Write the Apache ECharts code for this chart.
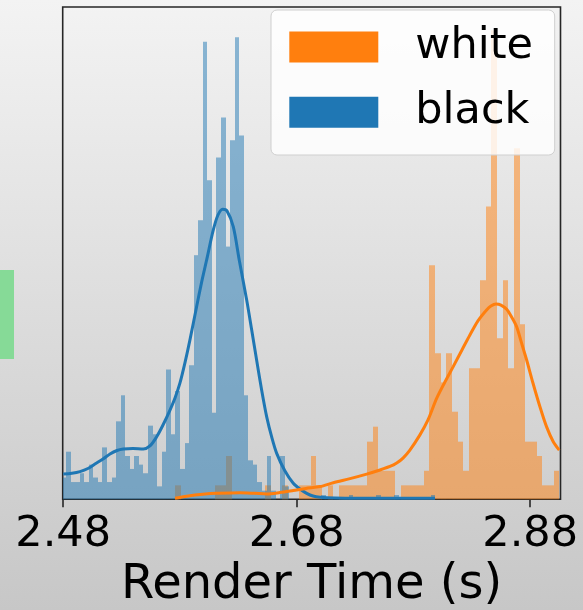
<!DOCTYPE html>
<html>
<head>
<meta charset="utf-8">
<script src="https://cdn.jsdelivr.net/npm/echarts@6/dist/echarts.min.js"></script>
<style>
html,body{margin:0;padding:0;}
body{width:583px;height:610px;background:linear-gradient(#f3f3f3,#c7c7c7);overflow:hidden;}
#c{width:583px;height:610px;}
</style>
</head>
<body>
<div id="c"></div>
<script>
// ---- data ----
const xTicks = [2.48, 2.68, 2.88];
const seriesNames = ['white', 'black'];

// "black" histogram (density), bins start at blueStart, width blueWidth
const blueStart = 2.4785;
const blueWidth = 0.003906;
const blueDensity = [
  1.06, 2.32, 0.84, 0.84, 1.27, 0.84, 1.69, 1.06, 0.84, 2.53,
  0.84, 1.06, 3.80, 5.07, 2.11, 1.48, 2.11, 1.69, 1.27, 3.59,
  3.17, 0.63, 2.32, 6.33, 3.17, 5.28, 1.48, 2.74, 6.54, 11.90,
  13.60, 22.31, 15.55, 4.22, 16.66, 18.61, 12.32, 17.50, 22.53, 17.73,
  5.07, 1.90, 1.69, 0.84, 0.42, 2.11, 0.42, 0, 2.11, 0.63,
  0, 0, 0, 0, 0, 0, 0, 0.21, 0, 0,
  0, 0, 0, 0.21, 0, 0, 0, 0, 0, 0.21,
  0, 0, 0, 0.21, 0, 0, 0, 0, 0, 0,
  0, 0.21
];

// "white" histogram (density)
const orangeStart = 2.5758;
const orangeWidth = 0.00484;
const orangeDensity = [
  0.68, 0, 0, 0, 0, 0, 0, 0.68, 0.68, 2.11,
  0, 0, 0, 0, 0, 0, 0.68, 0, 0, 0.68,
  0, 0, 0.68, 0.68, 2.11, 0.68, 0, 0.68, 0, 0.68,
  0.68, 0.68, 0.68, 0.68, 2.81, 3.54, 1.39, 1.39, 1.39, 0,
  0.68, 0.68, 0.68, 0.68, 1.39, 11.41, 7.12, 5.70, 7.12, 4.27,
  2.81, 1.39, 6.39, 6.39, 10.68, 14.27, 22.87, 7.85, 10.68, 6.39,
  17.11, 8.53, 2.81, 2.81, 2.11, 0.68, 0.68, 1.39
];

// KDE curves
const blueKdeX = [2.4801, 2.4875, 2.4944, 2.5012, 2.5072, 2.5141, 2.5201, 2.5261, 2.5315, 2.5398,
  2.5486, 2.5543, 2.5601, 2.5655, 2.5715, 2.5758, 2.5800, 2.5843, 2.5886, 2.5943,
  2.5986, 2.6029, 2.6086, 2.6126, 2.6166, 2.6203, 2.6257, 2.6308, 2.6372, 2.6415,
  2.6457, 2.6500, 2.6543, 2.6586, 2.6629, 2.6700, 2.6771, 2.6828, 2.6886, 2.6940,
  2.7000, 2.7128, 2.7342, 2.7685, 2.7985];
const blueKdeY = [1.23, 1.27, 1.35, 1.50, 1.72, 1.96, 2.21, 2.38, 2.45, 2.48,
  2.45, 2.60, 3.05, 3.62, 4.35, 4.94, 5.66, 6.65, 7.77, 9.39,
  10.59, 11.67, 13.13, 13.86, 14.14, 14.06, 13.29, 11.67, 9.72, 8.25,
  6.79, 5.33, 4.03, 3.04, 2.24, 1.38, 0.78, 0.50, 0.29, 0.16,
  0.10, 0.06, 0.05, 0.05, 0.05];

const orangeKdeX = [2.5758, 2.5843, 2.5929, 2.6015, 2.6109, 2.6314, 2.6443, 2.6543, 2.6657, 2.6771,
  2.6880, 2.7000, 2.7114, 2.7257, 2.7400, 2.7514, 2.7599, 2.7657, 2.7711, 2.7770,
  2.7856, 2.7925, 2.7999, 2.8070, 2.8141, 2.8216, 2.8284, 2.8353, 2.8427, 2.8464,
  2.8507, 2.8550, 2.8599, 2.8636, 2.8684, 2.8721, 2.8770, 2.8824, 2.8884, 2.8941,
  2.8998, 2.9049];
const orangeKdeY = [0.05, 0.14, 0.21, 0.26, 0.29, 0.32, 0.29, 0.26, 0.33, 0.43,
  0.53, 0.62, 0.81, 1.01, 1.23, 1.43, 1.60, 1.77, 2.01, 2.40,
  3.14, 3.87, 4.92, 5.72, 6.47, 7.28, 8.01, 8.70, 9.23, 9.42,
  9.52, 9.47, 9.26, 8.94, 8.42, 7.72, 6.79, 5.67, 4.51, 3.53,
  2.81, 2.40];

// ---- chart ----
const BLUE = '#1f77b4', ORANGE = '#ff7f0e';
function bins(start, w, vals) {
  return vals.map((v, i) => [start + i * w, start + (i + 1) * w, v]);
}
function zip(xs, ys) { return xs.map((x, i) => [x, ys[i]]); }
function makeRender(fill) {
  return function (params, api) {
    const v = api.value(2);
    if (!v) return null;
    const a = api.coord([api.value(0), v]);
    const b = api.coord([api.value(1), 0]);
    const cs = params.coordSys;
    const x0 = Math.max(Math.round(a[0]), Math.ceil(cs.x));
    const x1 = Math.min(Math.round(b[0]), Math.floor(cs.x + cs.width));
    if (x1 <= x0) return null;
    const y0 = Math.max(a[1], cs.y);
    return {type: 'rect', shape: {x: x0, y: y0, width: x1 - x0, height: b[1] - y0},
      style: {fill: fill}};
  };
}

const chart = echarts.init(document.getElementById('c'), null, {renderer: 'canvas'});
const FONT = 'DejaVu Sans';
chart.setOption({
  backgroundColor: 'transparent',
  animation: false,
  textStyle: {fontFamily: FONT},
  graphic: [{
    type: 'rect', left: 0, top: 270, shape: {width: 14, height: 89},
    style: {fill: '#86da97'}, silent: true
  }],
  grid: {
    left: 62.7, right: 22.5, top: 7, bottom: 110.7,
    show: true, borderColor: '#262626', borderWidth: 1.6, backgroundColor: 'transparent',
    outerBoundsMode: 'none'
  },
  legend: {
    orient: 'vertical', left: 271, top: 10,
    data: [
      {name: seriesNames[0], icon: 'rect', itemStyle: {color: ORANGE, opacity: 1, borderWidth: 0}},
      {name: seriesNames[1], icon: 'rect', itemStyle: {color: BLUE, opacity: 1, borderWidth: 0}}
    ],
    itemWidth: 89, itemHeight: 31, itemGap: 22.2,
    padding: [15.5, 21.7, 21.3, 18.3],
    backgroundColor: 'rgba(255,255,255,0.82)', borderColor: '#cfcfcf', borderWidth: 1, borderRadius: 6,
    textStyle: {fontFamily: FONT, fontSize: 43, color: '#000', lineHeight: 43, padding: [0, 0, 0, 32]},
    selectedMode: false
  },
  xAxis: {
    type: 'value', min: 2.4796, max: 2.906,
    name: 'Render Time (s)', nameLocation: 'middle', nameGap: 57,
    nameTextStyle: {fontFamily: FONT, fontSize: 48, color: '#000'},
    axisLine: {show: false},
    splitLine: {show: false},
    axisTick: {show: true, length: 8, lineStyle: {color: '#262626', width: 1.6}, customValues: xTicks},
    axisLabel: {show: true, fontFamily: FONT, fontSize: 43, color: '#000', margin: 14,
      customValues: xTicks, formatter: v => v.toFixed(2)}
  },
  yAxis: {
    type: 'value', min: 0, max: 24, show: false,
    splitLine: {show: false}
  },
  series: [
    {name: seriesNames[0], type: 'custom', renderItem: makeRender('rgba(255,127,14,0.5)'),
      encode: {x: [0, 1], y: 2}, data: bins(orangeStart, orangeWidth, orangeDensity), z: 1,
      itemStyle: {color: ORANGE}},
    {name: seriesNames[1], type: 'custom', renderItem: makeRender('rgba(31,119,180,0.5)'),
      encode: {x: [0, 1], y: 2}, data: bins(blueStart, blueWidth, blueDensity), z: 2,
      itemStyle: {color: BLUE}},
    {name: 'black kde', type: 'line', data: zip(blueKdeX, blueKdeY), smooth: 0.3, showSymbol: false,
      lineStyle: {color: BLUE, width: 3}, itemStyle: {color: BLUE}, z: 3},
    {name: 'white kde', type: 'line', data: zip(orangeKdeX, orangeKdeY), smooth: 0.3, showSymbol: false,
      lineStyle: {color: ORANGE, width: 3}, itemStyle: {color: ORANGE}, z: 4}
  ]
});
</script>
</body>
</html>
